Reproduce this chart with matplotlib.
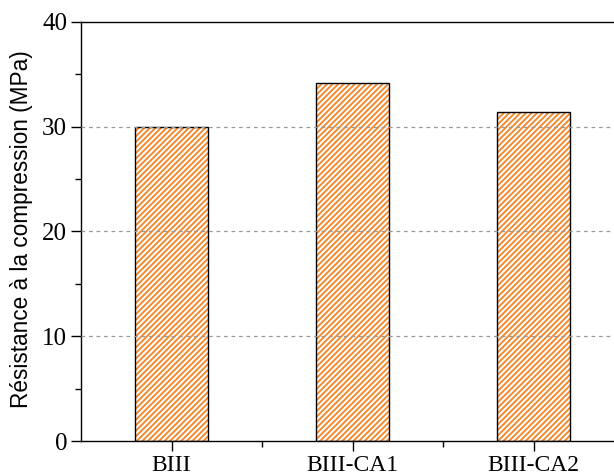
import matplotlib.pyplot as plt
import numpy as np
from matplotlib.ticker import MultipleLocator

# ==================== données ====================
categories = ['BIII', 'BIII-CA1', 'BIII-CA2']
resistance = [30.0, 34.2, 31.4]  # MPa

plt.rcParams['font.family'] = ['Liberation Serif', 'DejaVu Serif']
plt.rcParams['hatch.linewidth'] = 1.4

fig = plt.figure(figsize=(6.14, 4.75), dpi=100)
# l'axe de droite est coupé dans l'original
ax = fig.add_axes([81 / 614, 34 / 475, (624 - 81) / 614, 419 / 475])

x = np.arange(len(categories))
# hachures orange, puis contour noir par-dessus
ax.bar(x, resistance, width=0.4, color='white', edgecolor='#F28A30',
       linewidth=0, hatch='//////', zorder=2)
ax.bar(x, resistance, width=0.4, color='none', edgecolor='black',
       linewidth=1.0, zorder=2.5)

# grille pointillée par-dessus les barres
for yv in [10, 20, 30]:
    ax.axhline(yv, color='#999999', linestyle=(0, (3, 3)), linewidth=0.9, zorder=3)

ax.set_xlim(-0.5, 2.5)
ax.set_ylim(0, 40)
ax.set_xticks(x)
ax.set_xticklabels(categories, fontsize=17)
ax.set_xticks([0.5, 1.5], minor=True)
ax.yaxis.set_major_locator(MultipleLocator(10))
ax.yaxis.set_minor_locator(MultipleLocator(5))
ax.tick_params(axis='y', labelsize=18)
ax.tick_params(which='major', direction='out', length=7, width=1, pad=3)
ax.tick_params(which='minor', direction='out', length=4, width=1)

ax.set_ylabel('Résistance à la compression (MPa)', fontsize=16.3,
              family=['Liberation Sans', 'DejaVu Sans'])
ax.yaxis.set_label_coords(-0.088, 0.505)
for sp in ax.spines.values():
    sp.set_linewidth(1.0)

plt.savefig('out.png', dpi=100)
